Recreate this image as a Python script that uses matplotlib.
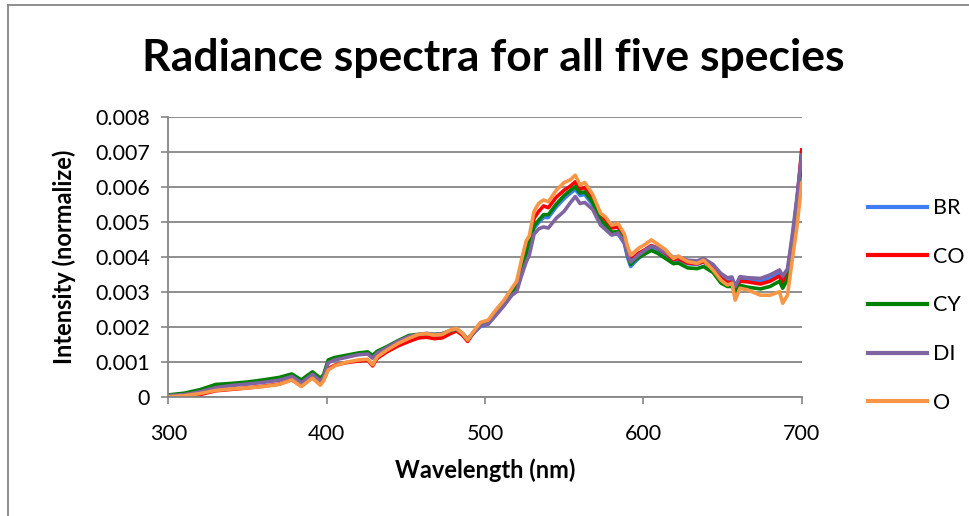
import matplotlib
matplotlib.use("Agg")
import matplotlib.pyplot as plt
from matplotlib.lines import Line2D

# wavelength grid (nm)
wavelength = [300, 310, 320, 330, 340, 350, 360, 370, 378, 384,
              391, 396, 398, 401, 405, 412, 420, 426, 429, 432,
              438, 445, 452, 458, 463, 468, 473, 478, 482, 486,
              489, 492, 497, 502, 506, 512, 517, 520, 523, 526,
              528, 531, 534, 537, 540, 545, 550, 554, 557, 560,
              563, 568, 573, 576, 580, 584, 588, 590, 592, 594,
              597, 601, 605, 609, 614, 619, 622, 628, 634, 638,
              644, 649, 653, 656, 658, 661, 666, 674, 680, 686,
              688, 691, 694, 697, 700]

br = [0.00004, 0.00008, 0.00017, 0.00028, 0.00034, 0.00039, 0.00044, 0.00050, 0.00061, 0.00043,
      0.00067, 0.00048, 0.00058, 0.00100, 0.00107, 0.00114, 0.00121, 0.00124, 0.00113, 0.00127,
      0.00140, 0.00157, 0.00171, 0.00176, 0.00179, 0.00176, 0.00178, 0.00186, 0.00192, 0.00178,
      0.00162, 0.00178, 0.00200, 0.00207, 0.00230, 0.00262, 0.00294, 0.00310, 0.00355, 0.00405,
      0.00428, 0.00482, 0.00498, 0.00512, 0.00512, 0.00542, 0.00566, 0.00582, 0.00592, 0.00575,
      0.00578, 0.00548, 0.00498, 0.00485, 0.00463, 0.00465, 0.00438, 0.00398, 0.00372, 0.00382,
      0.00395, 0.00410, 0.00422, 0.00416, 0.00402, 0.00386, 0.00390, 0.00380, 0.00378, 0.00385,
      0.00368, 0.00342, 0.00330, 0.00332, 0.00308, 0.00335, 0.00333, 0.00330, 0.00338, 0.00352,
      0.00333, 0.00355, 0.00450, 0.00560, 0.00695]

co = [0.00000, 0.00001, 0.00006, 0.00017, 0.00021, 0.00025, 0.00030, 0.00036, 0.00049, 0.00031,
      0.00055, 0.00036, 0.00048, 0.00080, 0.00090, 0.00097, 0.00102, 0.00104, 0.00088, 0.00110,
      0.00128, 0.00145, 0.00158, 0.00168, 0.00170, 0.00166, 0.00168, 0.00180, 0.00188, 0.00175,
      0.00158, 0.00178, 0.00205, 0.00210, 0.00236, 0.00270, 0.00305, 0.00325, 0.00372, 0.00425,
      0.00445, 0.00510, 0.00530, 0.00545, 0.00540, 0.00570, 0.00590, 0.00602, 0.00614, 0.00592,
      0.00598, 0.00568, 0.00515, 0.00505, 0.00482, 0.00485, 0.00455, 0.00415, 0.00390, 0.00398,
      0.00410, 0.00420, 0.00432, 0.00425, 0.00410, 0.00392, 0.00395, 0.00382, 0.00380, 0.00386,
      0.00368, 0.00338, 0.00326, 0.00328, 0.00305, 0.00330, 0.00328, 0.00322, 0.00330, 0.00345,
      0.00325, 0.00348, 0.00430, 0.00560, 0.00705]

cy = [0.00005, 0.00010, 0.00020, 0.00035, 0.00038, 0.00042, 0.00048, 0.00055, 0.00065, 0.00048,
      0.00071, 0.00053, 0.00062, 0.00105, 0.00112, 0.00118, 0.00125, 0.00128, 0.00118, 0.00130,
      0.00143, 0.00160, 0.00175, 0.00178, 0.00180, 0.00178, 0.00180, 0.00188, 0.00193, 0.00180,
      0.00165, 0.00180, 0.00205, 0.00212, 0.00235, 0.00268, 0.00300, 0.00318, 0.00360, 0.00410,
      0.00435, 0.00488, 0.00505, 0.00520, 0.00520, 0.00550, 0.00575, 0.00590, 0.00600, 0.00582,
      0.00585, 0.00555, 0.00505, 0.00492, 0.00470, 0.00472, 0.00445, 0.00405, 0.00378, 0.00388,
      0.00398, 0.00408, 0.00418, 0.00410, 0.00395, 0.00380, 0.00382, 0.00368, 0.00366, 0.00372,
      0.00355, 0.00325, 0.00315, 0.00315, 0.00300, 0.00318, 0.00313, 0.00308, 0.00315, 0.00330,
      0.00310, 0.00335, 0.00400, 0.00530, 0.00680]

di = [0.00003, 0.00006, 0.00014, 0.00026, 0.00032, 0.00036, 0.00041, 0.00047, 0.00058, 0.00040,
      0.00064, 0.00045, 0.00055, 0.00097, 0.00105, 0.00112, 0.00120, 0.00122, 0.00110, 0.00125,
      0.00140, 0.00158, 0.00172, 0.00178, 0.00181, 0.00178, 0.00180, 0.00189, 0.00194, 0.00180,
      0.00163, 0.00180, 0.00202, 0.00208, 0.00228, 0.00260, 0.00290, 0.00300, 0.00345, 0.00385,
      0.00405, 0.00465, 0.00480, 0.00485, 0.00482, 0.00510, 0.00530, 0.00555, 0.00572, 0.00552,
      0.00555, 0.00535, 0.00490, 0.00478, 0.00462, 0.00468, 0.00440, 0.00405, 0.00385, 0.00393,
      0.00405, 0.00418, 0.00430, 0.00425, 0.00412, 0.00398, 0.00400, 0.00390, 0.00388, 0.00395,
      0.00378, 0.00352, 0.00340, 0.00342, 0.00315, 0.00343, 0.00340, 0.00338, 0.00348, 0.00362,
      0.00345, 0.00365, 0.00460, 0.00570, 0.00690]

o = [0.00000, 0.00003, 0.00009, 0.00018, 0.00022, 0.00025, 0.00029, 0.00035, 0.00048, 0.00029,
     0.00053, 0.00033, 0.00045, 0.00076, 0.00088, 0.00098, 0.00105, 0.00107, 0.00091, 0.00114,
     0.00133, 0.00152, 0.00167, 0.00178, 0.00180, 0.00176, 0.00178, 0.00190, 0.00195, 0.00180,
     0.00162, 0.00182, 0.00212, 0.00219, 0.00243, 0.00276, 0.00310, 0.00330, 0.00390, 0.00445,
     0.00460, 0.00530, 0.00553, 0.00562, 0.00557, 0.00590, 0.00612, 0.00620, 0.00633, 0.00605,
     0.00612, 0.00578, 0.00524, 0.00514, 0.00490, 0.00495, 0.00465, 0.00430, 0.00405, 0.00412,
     0.00424, 0.00435, 0.00448, 0.00436, 0.00420, 0.00395, 0.00402, 0.00386, 0.00381, 0.00390,
     0.00362, 0.00333, 0.00319, 0.00324, 0.00276, 0.00310, 0.00305, 0.00290, 0.00290, 0.00300,
     0.00267, 0.00290, 0.00390, 0.00486, 0.00610]

names = ["BR", "CO", "CY", "DI", "O"]
series = [br, co, cy, di, o]
colors = ["#3f7ef2", "#ff0000", "#008000", "#8064a2", "#f79646"]
yticks = [0, 0.001, 0.002, 0.003, 0.004, 0.005, 0.006, 0.007, 0.008]
ytick_labels = ["0", "0.001", "0.002", "0.003", "0.004", "0.005", "0.006", "0.007", "0.008"]
xticks = [300, 400, 500, 600, 700]

plt.rcParams['font.family'] = ['Lato', 'DejaVu Sans']
grey = "#868686"

fig = plt.figure(figsize=(9.7, 5.16), dpi=100)
ax = fig.add_axes([0.1735, 0.2312, 0.6530, 0.5426])

for name, vals, c in zip(names, series, colors):
    ax.plot(wavelength, vals, color=c, lw=2.6, label=name, solid_joinstyle="round")

ax.set_xlim(300, 700)
ax.set_ylim(0, 0.008)
ax.set_xticks(xticks)
ax.set_yticks(yticks)
ax.set_yticklabels(ytick_labels)
ax.tick_params(axis="both", labelsize=15.5, color=grey, length=5, width=1.2)
ax.tick_params(axis="x", pad=15)
ax.tick_params(axis="y", pad=8)
ax.grid(axis="y", color=grey, lw=1.3)
ax.set_axisbelow(True)
for side in ["top", "right"]:
    ax.spines[side].set_visible(False)
for side in ["left", "bottom"]:
    ax.spines[side].set_color(grey)
    ax.spines[side].set_linewidth(1.3)

ax.set_xlabel("Wavelength (nm)", fontsize=17, fontweight="bold", labelpad=10)
ax.set_ylabel("Intensity (normalize)", fontsize=17, fontweight="bold", labelpad=14)
fig.text(0.509, 0.888, "Radiance spectra for all five species", ha="center", va="center",
         fontsize=32, fontweight="bold")

handles = [Line2D([0], [0], color=c, lw=3) for c in colors]
fig.legend(handles, names, loc="center left", bbox_to_anchor=(0.875, 0.408),
           frameon=False, fontsize=15.5, handlelength=2.75, labelspacing=1.33,
           handletextpad=0.25)

# chart border (left and top edges only visible)
fig.add_artist(Line2D([8.5 / 970, 8.5 / 970], [0, 1 - 5 / 516], color=grey, lw=1.3,
                      transform=fig.transFigure))
fig.add_artist(Line2D([8.5 / 970, 1], [1 - 5 / 516, 1 - 5 / 516], color=grey, lw=1.3,
                      transform=fig.transFigure))

fig.savefig("out.png", dpi=100)
